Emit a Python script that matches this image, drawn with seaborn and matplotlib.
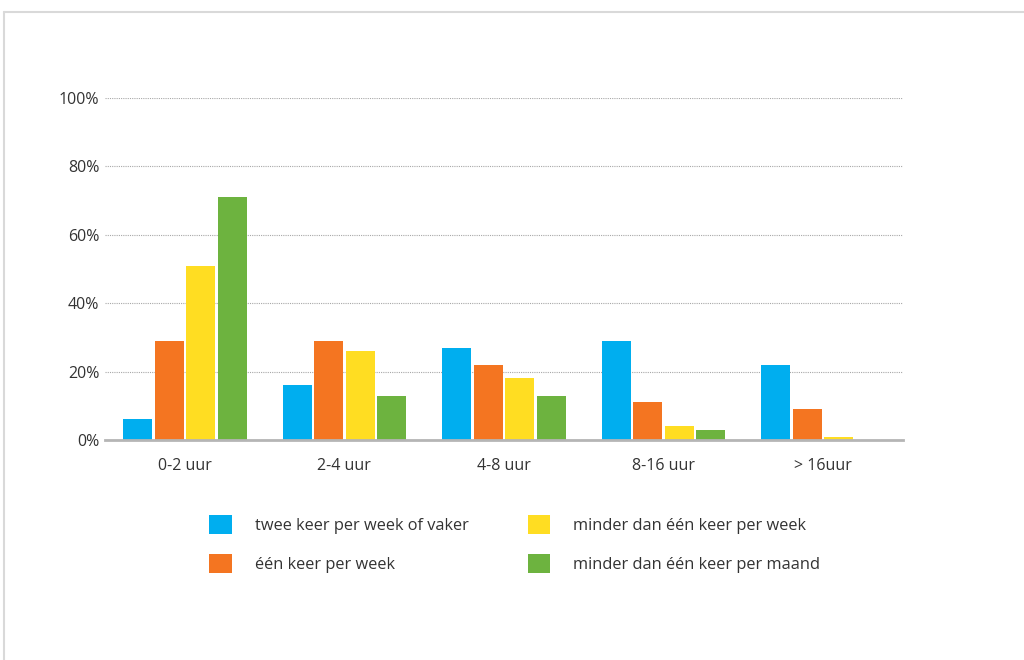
import matplotlib
matplotlib.use("Agg")
import matplotlib.pyplot as plt
import seaborn as sns
import pandas as pd
from matplotlib.lines import Line2D
from matplotlib.patches import Patch

categories = ["0-2 uur", "2-4 uur", "4-8 uur", "8-16 uur", "> 16uur"]
series_names = ["twee keer per week of vaker", "één keer per week",
                "minder dan één keer per week", "minder dan één keer per maand"]
twee_keer = [6, 16, 27, 29, 22]
een_keer = [29, 29, 22, 11, 9]
minder_week = [51, 26, 18, 4, 1]
minder_maand = [71, 13, 13, 3, 0]
colors = ["#00AEEF", "#F47521", "#FFDD22", "#6DB33F"]
y_ticks = [0, 20, 40, 60, 80, 100]

rows = []
for name, vals in zip(series_names, [twee_keer, een_keer, minder_week, minder_maand]):
    for c, v in zip(categories, vals):
        rows.append({"cat": c, "series": name, "value": v})
df = pd.DataFrame(rows)

sns.set_theme(style="white")
plt.rcParams["font.family"] = ["Open Sans", "DejaVu Sans"]
text_color = "#333333"

fig = plt.figure(figsize=(10.24, 6.6), dpi=100)
ax = fig.add_axes([105/1024, 220/660, 798/1024, 342/660])

sns.barplot(data=df, x="cat", y="value", hue="series", order=categories,
            hue_order=series_names, palette=colors, width=0.79, gap=0.08,
            saturation=1, ax=ax, legend=False, errorbar=None, linewidth=0)

ax.set_xlim(-0.5, 4.5)
ax.set_ylim(0, 100)
ax.set_yticks(y_ticks)
ax.set_yticklabels([f"{t}%" for t in y_ticks])
ax.set_xlabel("")
ax.set_ylabel("")
ax.set_axisbelow(True)
ax.yaxis.grid(True, color="#a8a8a8", linestyle=(0, (1, 1)), linewidth=0.8)
ax.xaxis.grid(False)
for s in ["top", "right", "left"]:
    ax.spines[s].set_visible(False)
ax.spines["bottom"].set_color("#b5b5b5")
ax.spines["bottom"].set_linewidth(2)
ax.tick_params(axis="y", length=0, pad=4, labelsize=11.5, labelcolor=text_color)
ax.tick_params(axis="x", which="major", length=0, pad=13, labelsize=11.5, labelcolor=text_color)
ax.set_xticks([i - 0.5 for i in range(len(categories) + 1)], minor=True)
ax.tick_params(axis="x", which="minor", direction="in", length=6, width=1.5, color="#b5b5b5")

handles = [Patch(facecolor=c, edgecolor="none") for c in colors]
fig.legend(handles, series_names, loc="upper left", bbox_to_anchor=(194/1024, 1 - 500/660),
           ncol=2, frameon=False, fontsize=11.8, handlelength=1.4, handleheight=1.45,
           handletextpad=1.4, labelspacing=1.2, columnspacing=3.6, labelcolor=text_color)

frame_color = "#d9d9d9"
fig.add_artist(Line2D([4/1024, 1.0], [1 - 12/660, 1 - 12/660], transform=fig.transFigure,
                      color=frame_color, linewidth=1.5))
fig.add_artist(Line2D([4/1024, 4/1024], [0, 1 - 12/660], transform=fig.transFigure,
                      color=frame_color, linewidth=1.5))

fig.savefig("out.png", dpi=100, facecolor="white")
